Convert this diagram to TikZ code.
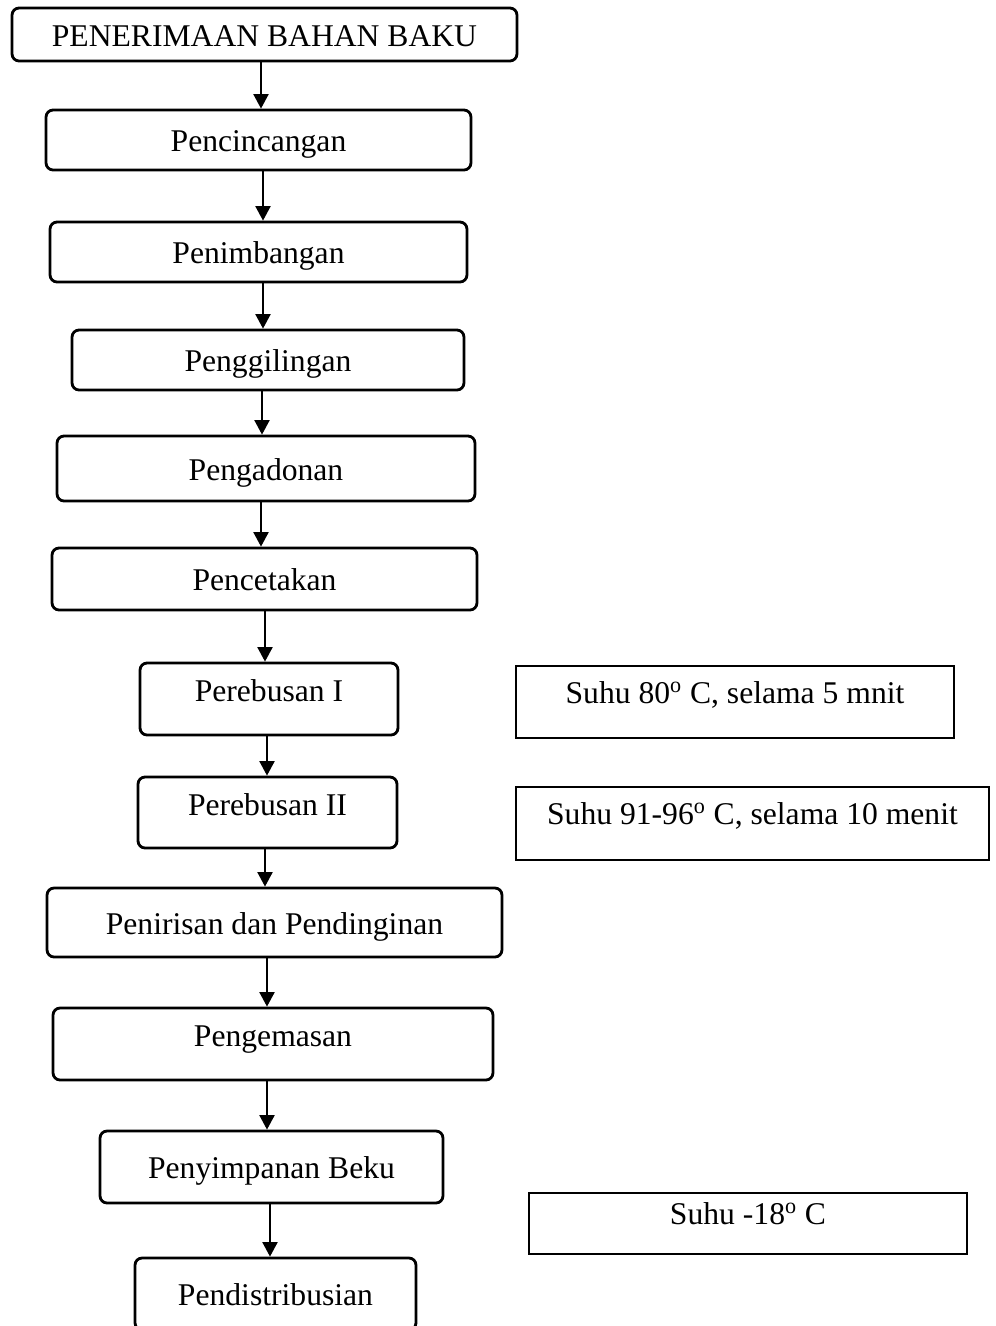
\documentclass[tikz,border=0pt]{standalone}
\usepackage{fontspec}
\setmainfont{Liberation Serif}
\usetikzlibrary{arrows.meta}

\begin{document}
\begin{tikzpicture}[x=0.02cm, y=-0.02cm,
    proses/.style={draw, line width=1.6pt, rounded corners=4pt, inner sep=0pt,
        font=\fontsize{18}{22}\selectfont, text height=16pt, text depth=2.5pt},
    naik/.style={text depth=13pt},
    keterangan/.style={draw, line width=0.8pt, inner sep=0pt,
        font=\fontsize{18}{22}\selectfont, text height=12.6pt, text depth=11pt},
    panah/.style={-{Triangle[length=0.29cm, width=0.3cm]}, line width=1.2pt}]

    % --- Page size (same proportions as the original) ---
    \useasboundingbox (0,0) rectangle (995,1326);

    % --- Process steps ---
    \node[proses, minimum width=10.10cm, minimum height=1.06cm] (b1) at (264.5,34.5) {PENERIMAAN BAHAN BAKU};
    \node[proses, minimum width=8.50cm, minimum height=1.20cm] (b2) at (258.5,140) {Pencincangan};
    \node[proses, minimum width=8.34cm, minimum height=1.20cm] (b3) at (258.5,252) {Penimbangan};
    \node[proses, minimum width=7.84cm, minimum height=1.20cm] (b4) at (268,360) {Penggilingan};
    \node[proses, minimum width=8.36cm, minimum height=1.30cm] (b5) at (266,468.5) {Pengadonan};
    \node[proses, minimum width=8.50cm, minimum height=1.24cm] (b6) at (264.5,579) {Pencetakan};
    \node[proses, naik, minimum width=5.16cm, minimum height=1.44cm] (b7) at (269,699) {Perebusan I};
    \node[proses, naik, minimum width=5.18cm, minimum height=1.42cm] (b8) at (267.5,812.5) {Perebusan II};
    \node[proses, minimum width=9.10cm, minimum height=1.38cm] (b9) at (274.5,922.5) {Penirisan dan Pendinginan};
    \node[proses, naik, minimum width=8.80cm, minimum height=1.44cm] (b10) at (273,1044) {Pengemasan};
    \node[proses, minimum width=6.86cm, minimum height=1.44cm] (b11) at (271.5,1167) {Penyimpanan Beku};
    \node[proses, minimum width=5.62cm, minimum height=1.44cm] (b12) at (275.5,1294) {Pendistribusian};

    % --- Notes on the right ---
    \node[keterangan, minimum width=8.76cm, minimum height=1.44cm] (kA) at (735,702) {Suhu 80\textsuperscript{o} C, selama 5 mnit};
    \node[keterangan, minimum width=9.46cm, minimum height=1.46cm] (kB) at (752.5,823.5) {Suhu 91-96\textsuperscript{o} C, selama 10 menit};
    \node[keterangan, minimum width=8.76cm, minimum height=1.22cm] (kC) at (748,1223.5) {Suhu -18\textsuperscript{o} C};

    % --- Arrows between the steps ---
    \draw[panah] (b1.south -| 261,0) -- (b2.north -| 261,0);
    \draw[panah] (b2.south -| 263,0) -- (b3.north -| 263,0);
    \draw[panah] (b3.south -| 263,0) -- (b4.north -| 263,0);
    \draw[panah] (b4.south -| 262,0) -- (b5.north -| 262,0);
    \draw[panah] (b5.south -| 261,0) -- (b6.north -| 261,0);
    \draw[panah] (b6.south -| 265,0) -- (b7.north -| 265,0);
    \draw[panah] (b7.south -| 267,0) -- (b8.north -| 267,0);
    \draw[panah] (b8.south -| 265,0) -- (b9.north -| 265,0);
    \draw[panah] (b9.south -| 267,0) -- (b10.north -| 267,0);
    \draw[panah] (b10.south -| 267,0) -- (b11.north -| 267,0);
    \draw[panah] (b11.south -| 270,0) -- (b12.north -| 270,0);

\end{tikzpicture}
\end{document}
